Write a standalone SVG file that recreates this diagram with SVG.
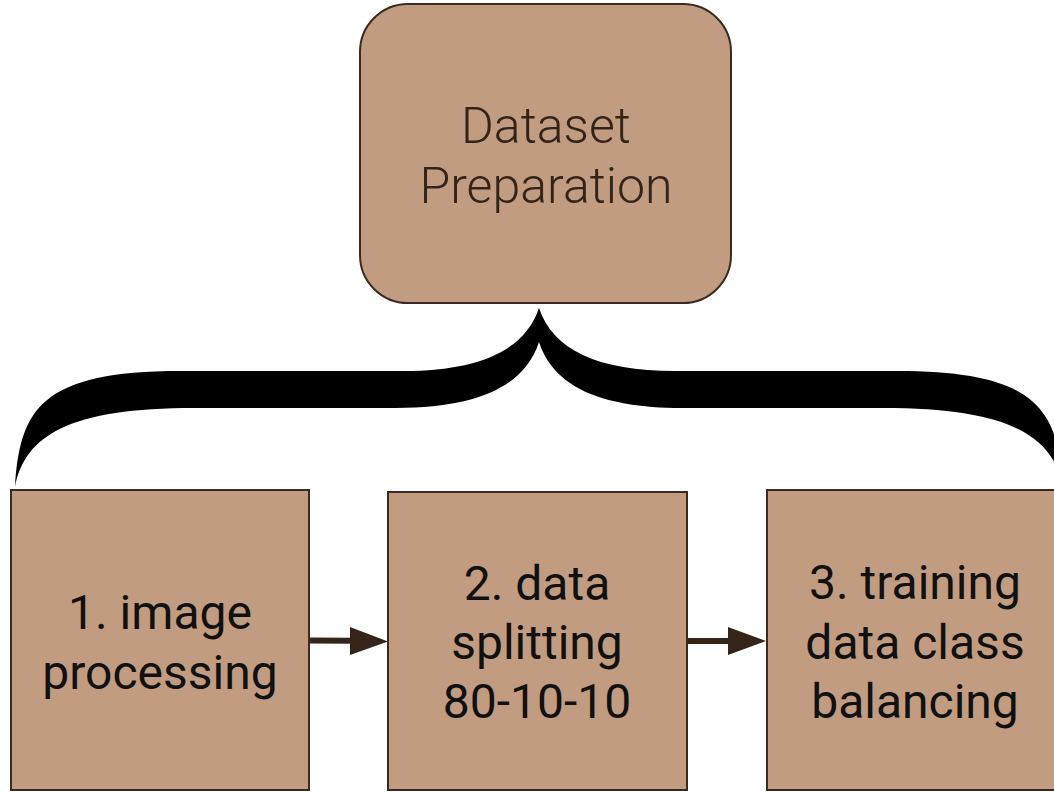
<svg xmlns="http://www.w3.org/2000/svg" width="1054" height="792" viewBox="0 0 1054 792">
<style>
.box{fill:#C29C80;stroke:#3a2a1f;stroke-width:2}
.t{font-family:Roboto,"Liberation Sans",sans-serif;font-size:48px;text-anchor:middle;fill:#111}
.tt{font-family:Roboto,"Liberation Sans",sans-serif;font-size:50px;font-weight:300;text-anchor:middle;fill:#33241a}
.shaft{stroke:#352519;stroke-width:6;fill:none}
.head{fill:#352519}
</style>
<rect width="1054" height="792" fill="#fff"/>
<g id="dataset-preparation">
<rect class="box" x="360" y="4" width="371" height="299" rx="48" ry="48"/>
<text class="tt" x="546" y="143">Dataset</text>
<text class="tt" x="546" y="203">Preparation</text>
</g>
<g id="brace">
<path fill="#000" d="M15,487 C20,410 40,371 181,371 L403,371 C480,371 525,350 539,308 C553,350 598,371 675,371 L897,371 C1038,371 1058,410 1063,487 C1053,435 1008,408 883,408 L682,408 C598,408 553,385 539,342 C525,385 480,408 396,408 L195,408 C70,408 25,435 15,487 Z"/>
</g>
<g id="image-processing">
<rect class="box" x="11" y="490" width="298" height="300"/>
<text class="t" x="160" y="629">1. image</text>
<text class="t" x="160" y="689">processing</text>
</g>
<g id="data-splitting">
<rect class="box" x="388" y="492" width="299" height="298"/>
<text class="t" x="537" y="600">2. data</text>
<text class="t" x="537" y="659">splitting</text>
<text class="t" x="537" y="718">80-10-10</text>
</g>
<g id="class-balancing">
<rect class="box" x="767" y="490" width="298" height="300"/>
<text class="t" x="915" y="599">3. training</text>
<text class="t" x="915" y="659">data class</text>
<text class="t" x="915" y="718">balancing</text>
</g>
<g id="connectors">
<line class="shaft" x1="310" y1="640.5" x2="352" y2="640.8"/>
<polygon class="head" points="350,627 388,641.5 350,655"/>
<line class="shaft" x1="688" y1="641" x2="730" y2="641"/>
<polygon class="head" points="728,627 766,641 728,655"/>
</g>
</svg>
